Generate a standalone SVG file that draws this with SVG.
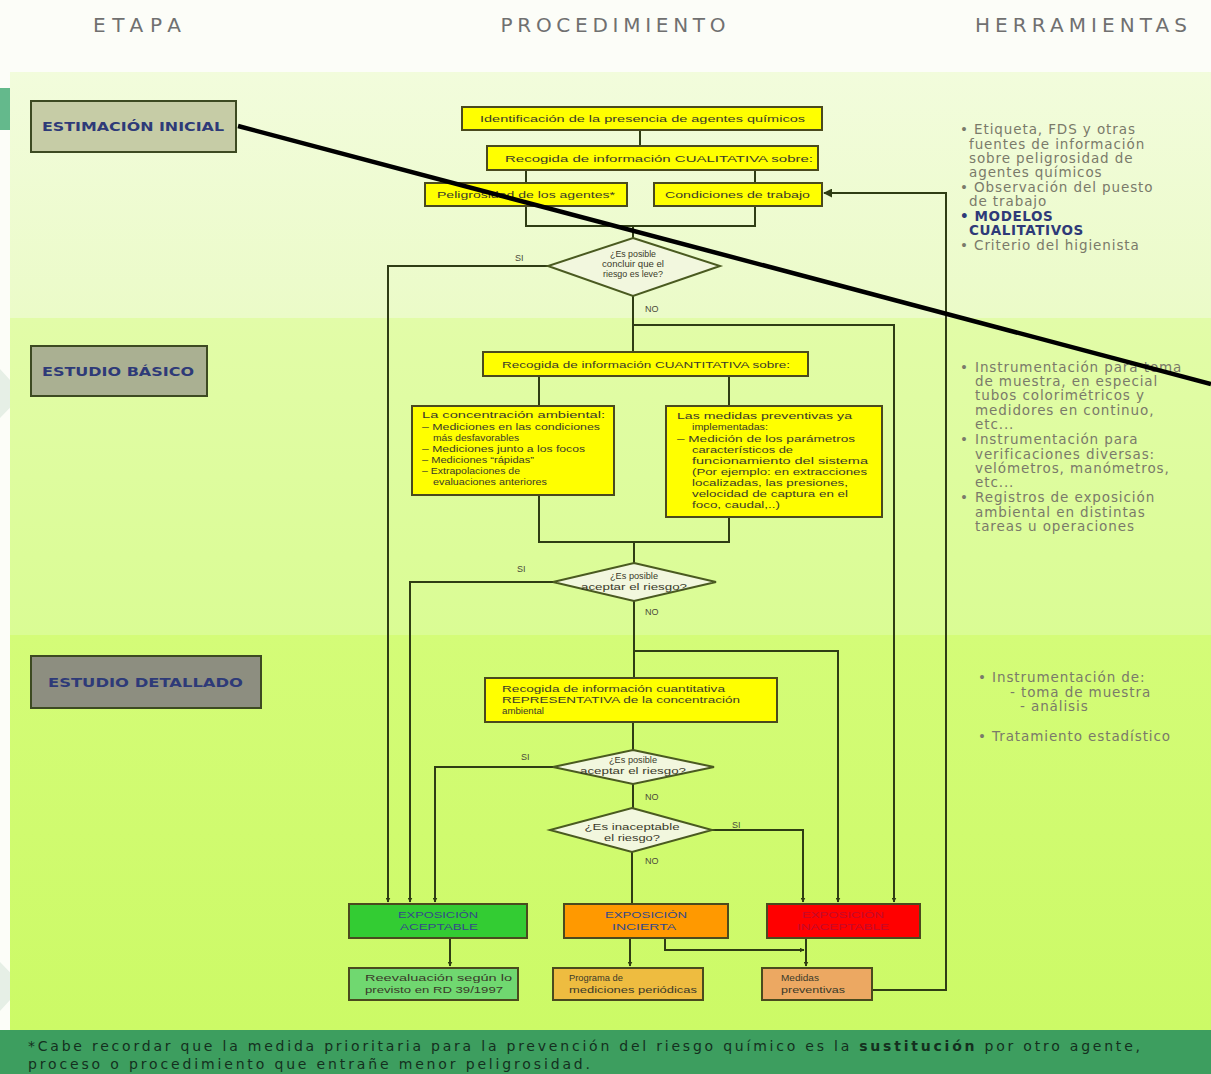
<svg xmlns="http://www.w3.org/2000/svg" width="1211" height="1074" viewBox="0 0 1211 1074">
  <defs>
    <marker id="arr" viewBox="0 0 10 10" refX="9" refY="5" markerWidth="5" markerHeight="5" orient="auto" markerUnits="userSpaceOnUse">
      <path d="M0,0 L10,5 L0,10 z" fill="#2f3d14"/>
    </marker>
    <marker id="arrS" viewBox="0 0 10 10" refX="9" refY="5" markerWidth="9" markerHeight="9" orient="auto" markerUnits="userSpaceOnUse">
      <path d="M0,0 L10,5 L0,10 z" fill="#2f3d14"/>
    </marker>
    <linearGradient id="g1" x1="0" y1="0" x2="0" y2="1">
      <stop offset="0" stop-color="#f2fcdc"/>
      <stop offset="1" stop-color="#ebfbc8"/>
    </linearGradient>
    <linearGradient id="g2" x1="0" y1="0" x2="0" y2="1">
      <stop offset="0" stop-color="#e2fca8"/>
      <stop offset="1" stop-color="#dafc94"/>
    </linearGradient>
    <linearGradient id="g3" x1="0" y1="0" x2="0" y2="1">
      <stop offset="0" stop-color="#d4fc78"/>
      <stop offset="1" stop-color="#ccfa66"/>
    </linearGradient>
    <style>
      .hdr { font-family: "DejaVu Sans", "Liberation Sans", sans-serif; font-size: 20px; fill: #707070; }
      .stage { stroke: #3d4a22; stroke-width: 2; }
      .stxt { font-family: "DejaVu Sans", "Liberation Sans", sans-serif; font-weight: bold; font-size: 13px; fill: #2e3a78; }
      .box { stroke: #4a4a1e; stroke-width: 2; }
      .yel { fill: #ffff00; }
      .dia { fill: #f2f7de; stroke: #4a5a20; stroke-width: 2; }
      .t { font-family: "Liberation Sans", Arial, sans-serif; font-size: 9.5px; fill: #3a3a2a; }
      .tc { font-family: "Liberation Sans", Arial, sans-serif; font-size: 9.5px; fill: #3a3a2a; text-anchor: middle; }
      .lbl { font-family: "Liberation Sans", Arial, sans-serif; font-size: 9px; fill: #4a4a3a; }
      .conn { fill: none; stroke: #2f3d14; stroke-width: 2; }
      .tool { font-family: "DejaVu Sans", "Liberation Sans", sans-serif; font-size: 13.5px; letter-spacing: 0.9px; fill: #7a7a6a; }
      .toolb { font-family: "DejaVu Sans", "Liberation Sans", sans-serif; font-size: 13.5px; letter-spacing: 0.6px; font-weight: bold; fill: #2e3a78; }
      .foot { font-family: "DejaVu Sans", "Liberation Sans", sans-serif; font-size: 14px; fill: #14301e; }
    </style>
  </defs>

  <!-- page background and bands -->
  <rect x="0" y="0" width="1211" height="1074" fill="#fcfdf8"/>
  <path d="M10,1000 A420,420 0 0 1 10,380" fill="none" stroke="#e6efe6" stroke-width="40"/>
  <rect x="0" y="88" width="10" height="42" fill="#64b98c"/>
  <rect x="10" y="72" width="1201" height="246" fill="url(#g1)"/>
  <rect x="10" y="318" width="1201" height="317" fill="url(#g2)"/>
  <rect x="10" y="635" width="1201" height="395" fill="url(#g3)"/>
  <rect x="0" y="1030" width="1211" height="44" fill="#3d9e5f"/>

  <!-- column headers -->
  <text class="hdr" x="137" y="32" text-anchor="middle" textLength="88">ETAPA</text>
  <text class="hdr" x="613" y="32" text-anchor="middle" textLength="225">PROCEDIMIENTO</text>
  <text class="hdr" x="1081" y="32" text-anchor="middle" textLength="212">HERRAMIENTAS</text>

  <!-- stages -->
  <g id="stage-estimacion">
    <rect class="stage" x="31" y="101" width="205" height="51" fill="#c6cca6"/>
    <text class="stxt" x="42" y="131" textLength="182" lengthAdjust="spacingAndGlyphs">ESTIMACIÓN INICIAL</text>
  </g>
  <g id="stage-basico">
    <rect class="stage" x="31" y="346" width="176" height="50" fill="#aab092"/>
    <text class="stxt" x="42" y="376" textLength="152" lengthAdjust="spacingAndGlyphs">ESTUDIO BÁSICO</text>
  </g>
  <g id="stage-detallado">
    <rect class="stage" x="31" y="656" width="230" height="52" fill="#8d8e80"/>
    <text class="stxt" x="48" y="687" textLength="195" lengthAdjust="spacingAndGlyphs">ESTUDIO DETALLADO</text>
  </g>

  <!-- connectors -->
  <g id="connectors">
    <path class="conn" d="M640,130 V146"/>
    <path class="conn" d="M526,170 V183"/>
    <path class="conn" d="M755,170 V183"/>
    <path class="conn" d="M526,206 V226 H755 V206"/>
    <path class="conn" d="M633,226 V238"/>
    <!-- diamond 1 -->
    <path class="conn" d="M548,266 H388 V902" marker-end="url(#arr)"/>
    <path class="conn" d="M633,296 V352"/>
    <path class="conn" d="M633,325 H894 V902" marker-end="url(#arr)"/>
    <!-- quantitative -->
    <path class="conn" d="M539,376 V406"/>
    <path class="conn" d="M729,376 V406"/>
    <path class="conn" d="M539,495 V542 H729 V517"/>
    <path class="conn" d="M634,542 V563"/>
    <!-- diamond 2 -->
    <path class="conn" d="M553,582 H410 V902" marker-end="url(#arr)"/>
    <path class="conn" d="M634,601 V678"/>
    <path class="conn" d="M634,651 H838 V902" marker-end="url(#arr)"/>
    <path class="conn" d="M633,722 V750"/>
    <!-- diamond 3 -->
    <path class="conn" d="M553,767 H435 V902" marker-end="url(#arr)"/>
    <path class="conn" d="M633,784 V808"/>
    <!-- diamond 4 -->
    <path class="conn" d="M712,830 H803 V902" marker-end="url(#arr)"/>
    <path class="conn" d="M632,852 V904"/>
    <!-- results -->
    <path class="conn" d="M450,938 V966" marker-end="url(#arr)"/>
    <path class="conn" d="M630,938 V966" marker-end="url(#arr)"/>
    <path class="conn" d="M806,938 V966" marker-end="url(#arr)"/>
    <path class="conn" d="M665,938 V950 H804" marker-end="url(#arr)"/>
    <!-- feedback -->
    <path class="conn" d="M872,990 H946 V193 H824" marker-end="url(#arrS)"/>
  </g>

  <!-- nodes -->
  <g id="n-identificacion">
    <rect class="box yel" x="462" y="107" width="360" height="23"/>
    <text class="t" x="480" y="122" textLength="325" lengthAdjust="spacingAndGlyphs">Identificación de la presencia de agentes químicos</text>
  </g>
  <g id="n-cualitativa">
    <rect class="box yel" x="487" y="146" width="331" height="24"/>
    <text class="t" x="505" y="162" textLength="308" lengthAdjust="spacingAndGlyphs">Recogida de información CUALITATIVA sobre:</text>
  </g>
  <g id="n-peligrosidad">
    <rect class="box yel" x="425" y="183" width="202" height="23"/>
    <text class="t" x="437" y="198" textLength="178" lengthAdjust="spacingAndGlyphs">Peligrosidad de los agentes*</text>
  </g>
  <g id="n-condiciones">
    <rect class="box yel" x="654" y="183" width="168" height="23"/>
    <text class="t" x="665" y="198" textLength="145" lengthAdjust="spacingAndGlyphs">Condiciones de trabajo</text>
  </g>
  <g id="n-d1">
    <polygon class="dia" points="633,238 720,266 633,296 548,266"/>
    <text class="tc" x="633" y="257" textLength="46" lengthAdjust="spacingAndGlyphs">¿Es posible</text>
    <text class="tc" x="633" y="267" textLength="62" lengthAdjust="spacingAndGlyphs">concluir que el</text>
    <text class="tc" x="633" y="277" textLength="60" lengthAdjust="spacingAndGlyphs">riesgo es leve?</text>
  </g>
  <g id="n-cuantitativa">
    <rect class="box yel" x="483" y="352" width="325" height="24"/>
    <text class="t" x="502" y="368" textLength="288" lengthAdjust="spacingAndGlyphs">Recogida de información CUANTITATIVA sobre:</text>
  </g>
  <g id="n-concentracion">
    <rect class="box yel" x="412" y="406" width="202" height="89"/>
    <text class="t" x="422" y="418" textLength="183" lengthAdjust="spacingAndGlyphs">La concentración ambiental:</text>
    <text class="t" x="422" y="430" textLength="178" lengthAdjust="spacingAndGlyphs">–  Mediciones en las condiciones</text>
    <text class="t" x="433" y="441" textLength="86" lengthAdjust="spacingAndGlyphs">más desfavorables</text>
    <text class="t" x="422" y="452" textLength="163" lengthAdjust="spacingAndGlyphs">–  Mediciones junto a los focos</text>
    <text class="t" x="422" y="463" textLength="112" lengthAdjust="spacingAndGlyphs">–  Mediciones “rápidas”</text>
    <text class="t" x="422" y="474" textLength="98" lengthAdjust="spacingAndGlyphs">–  Extrapolaciones de</text>
    <text class="t" x="433" y="485" textLength="114" lengthAdjust="spacingAndGlyphs">evaluaciones anteriores</text>
  </g>
  <g id="n-medidas">
    <rect class="box yel" x="666" y="406" width="216" height="111"/>
    <text class="t" x="677" y="419" textLength="175" lengthAdjust="spacingAndGlyphs">Las medidas preventivas ya</text>
    <text class="t" x="692" y="430" textLength="76" lengthAdjust="spacingAndGlyphs">implementadas:</text>
    <text class="t" x="677" y="442" textLength="178" lengthAdjust="spacingAndGlyphs">–  Medición de los parámetros</text>
    <text class="t" x="692" y="453" textLength="101" lengthAdjust="spacingAndGlyphs">característicos de</text>
    <text class="t" x="692" y="464" textLength="176" lengthAdjust="spacingAndGlyphs">funcionamiento del sistema</text>
    <text class="t" x="692" y="475" textLength="175" lengthAdjust="spacingAndGlyphs">(Por ejemplo: en extracciones</text>
    <text class="t" x="692" y="486" textLength="156" lengthAdjust="spacingAndGlyphs">localizadas, las presiones,</text>
    <text class="t" x="692" y="497" textLength="156" lengthAdjust="spacingAndGlyphs">velocidad de captura en el</text>
    <text class="t" x="692" y="508" textLength="88" lengthAdjust="spacingAndGlyphs">foco, caudal,..)</text>
  </g>
  <g id="n-d2">
    <polygon class="dia" points="634,563 716,582 634,601 553,582"/>
    <text class="tc" x="634" y="579" textLength="48" lengthAdjust="spacingAndGlyphs">¿Es posible</text>
    <text class="tc" x="634" y="590" textLength="106" lengthAdjust="spacingAndGlyphs">aceptar el riesgo?</text>
  </g>
  <g id="n-representativa">
    <rect class="box yel" x="485" y="678" width="292" height="44"/>
    <text class="t" x="502" y="692" textLength="223" lengthAdjust="spacingAndGlyphs">Recogida de información cuantitativa</text>
    <text class="t" x="502" y="703" textLength="238" lengthAdjust="spacingAndGlyphs">REPRESENTATIVA de la concentración</text>
    <text class="t" x="502" y="714" textLength="42" lengthAdjust="spacingAndGlyphs">ambiental</text>
  </g>
  <g id="n-d3">
    <polygon class="dia" points="633,750 714,767 633,784 553,767"/>
    <text class="tc" x="633" y="763" textLength="48" lengthAdjust="spacingAndGlyphs">¿Es posible</text>
    <text class="tc" x="633" y="774" textLength="106" lengthAdjust="spacingAndGlyphs">aceptar el riesgo?</text>
  </g>
  <g id="n-d4">
    <polygon class="dia" points="632,808 712,830 632,852 550,830"/>
    <text class="tc" x="632" y="830" textLength="95" lengthAdjust="spacingAndGlyphs">¿Es inaceptable</text>
    <text class="tc" x="632" y="841" textLength="56" lengthAdjust="spacingAndGlyphs">el riesgo?</text>
  </g>

  <!-- branch labels -->
  <g id="labels">
    <text class="lbl" x="515" y="261">SI</text>
    <text class="lbl" x="645" y="312">NO</text>
    <text class="lbl" x="517" y="572">SI</text>
    <text class="lbl" x="645" y="615">NO</text>
    <text class="lbl" x="521" y="760">SI</text>
    <text class="lbl" x="645" y="800">NO</text>
    <text class="lbl" x="732" y="828">SI</text>
    <text class="lbl" x="645" y="864">NO</text>
  </g>

  <g id="n-aceptable">
    <rect class="box" x="349" y="904" width="178" height="34" fill="#33cc33"/>
    <text class="tc" x="438" y="918" style="fill:#344a8a" textLength="80" lengthAdjust="spacingAndGlyphs">EXPOSICIÓN</text>
    <text class="tc" x="439" y="930" style="fill:#344a8a" textLength="78" lengthAdjust="spacingAndGlyphs">ACEPTABLE</text>
  </g>
  <g id="n-incierta">
    <rect class="box" x="564" y="904" width="164" height="34" fill="#ff9900"/>
    <text class="tc" x="646" y="918" style="fill:#344a8a" textLength="82" lengthAdjust="spacingAndGlyphs">EXPOSICIÓN</text>
    <text class="tc" x="644" y="930" style="fill:#344a8a" textLength="64" lengthAdjust="spacingAndGlyphs">INCIERTA</text>
  </g>
  <g id="n-inaceptable">
    <rect class="box" x="767" y="904" width="153" height="34" fill="#ff0000"/>
    <text class="tc" x="843" y="918" style="fill:#c40a2a" textLength="82" lengthAdjust="spacingAndGlyphs">EXPOSICIÓN</text>
    <text class="tc" x="843" y="930" style="fill:#c40a2a" textLength="92" lengthAdjust="spacingAndGlyphs">INACEPTABLE</text>
  </g>
  <g id="n-reevaluacion">
    <rect class="box" x="349" y="968" width="169" height="32" fill="#70d870"/>
    <text class="t" x="365" y="981" textLength="147" lengthAdjust="spacingAndGlyphs">Reevaluación según lo</text>
    <text class="t" x="365" y="993" textLength="138" lengthAdjust="spacingAndGlyphs">previsto en RD 39/1997</text>
  </g>
  <g id="n-programa">
    <rect class="box" x="553" y="968" width="150" height="32" fill="#eebc40"/>
    <text class="t" x="569" y="981" textLength="54" lengthAdjust="spacingAndGlyphs">Programa de</text>
    <text class="t" x="569" y="993" textLength="128" lengthAdjust="spacingAndGlyphs">mediciones periódicas</text>
  </g>
  <g id="n-prev">
    <rect class="box" x="762" y="968" width="110" height="32" fill="#eca862"/>
    <text class="t" x="781" y="981" textLength="38" lengthAdjust="spacingAndGlyphs">Medidas</text>
    <text class="t" x="781" y="993" textLength="64" lengthAdjust="spacingAndGlyphs">preventivas</text>
  </g>

  <!-- tools column -->
  <g id="tools-1">
    <text class="tool" x="960" y="134">• Etiqueta, FDS y otras</text>
    <text class="tool" x="969" y="149">fuentes de información</text>
    <text class="tool" x="969" y="163">sobre peligrosidad de</text>
    <text class="tool" x="969" y="177">agentes químicos</text>
    <text class="tool" x="960" y="192">• Observación del puesto</text>
    <text class="tool" x="969" y="206">de trabajo</text>
    <text class="toolb" x="960" y="221">• MODELOS</text>
    <text class="toolb" x="969" y="235">CUALITATIVOS</text>
    <text class="tool" x="960" y="250">• Criterio del higienista</text>
  </g>
  <g id="tools-2">
    <text class="tool" x="960" y="372">•</text>
    <text class="tool" x="975" y="372">Instrumentación para toma</text>
    <text class="tool" x="975" y="386">de muestra, en especial</text>
    <text class="tool" x="975" y="400">tubos colorimétricos y</text>
    <text class="tool" x="975" y="415">medidores en continuo,</text>
    <text class="tool" x="975" y="429">etc...</text>
    <text class="tool" x="960" y="444">•</text>
    <text class="tool" x="975" y="444">Instrumentación para</text>
    <text class="tool" x="975" y="459">verificaciones diversas:</text>
    <text class="tool" x="975" y="473">velómetros, manómetros,</text>
    <text class="tool" x="975" y="487">etc...</text>
    <text class="tool" x="960" y="502">•</text>
    <text class="tool" x="975" y="502">Registros de exposición</text>
    <text class="tool" x="975" y="517">ambiental en distintas</text>
    <text class="tool" x="975" y="531">tareas u operaciones</text>
  </g>
  <g id="tools-3">
    <text class="tool" x="978" y="682">• Instrumentación de:</text>
    <text class="tool" x="1010" y="697">- toma de muestra</text>
    <text class="tool" x="1020" y="711">- análisis</text>
    <text class="tool" x="978" y="741">• Tratamiento estadístico</text>
  </g>

  <!-- overlaid stroke -->
  <line x1="238" y1="126" x2="1211" y2="384" stroke="#000" stroke-width="4.5"/>

  <!-- footer note -->
  <text class="foot" x="28" y="1051" textLength="1112" lengthAdjust="spacing">*Cabe recordar que la medida prioritaria para la prevención del riesgo químico es la <tspan font-weight="bold">sustitución</tspan> por otro agente,</text>
  <text class="foot" x="28" y="1069" textLength="562" lengthAdjust="spacing">proceso o procedimiento que entrañe menor peligrosidad.</text>
</svg>
